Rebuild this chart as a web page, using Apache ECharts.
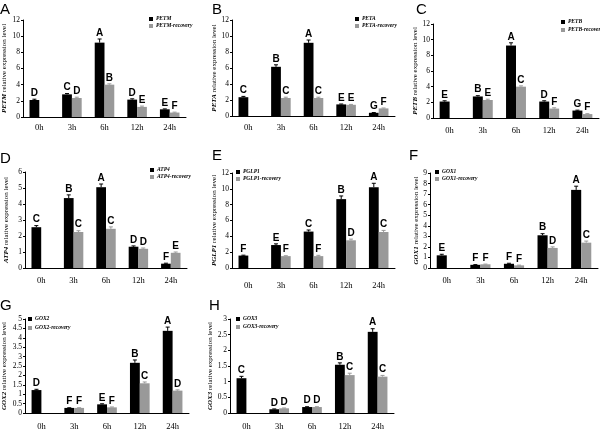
<!DOCTYPE html>
<html><head><meta charset="utf-8">
<script src="https://cdn.jsdelivr.net/npm/echarts@6/dist/echarts.min.js"></script>
<style>html,body{margin:0;padding:0;background:#fff}#c{width:600px;height:431px}</style>
</head><body><div id="c"></div>
<script>
const categories = ['0h','3h','6h','12h','24h'];
const panelTags = ['A','B','C','D','E','F','G','H'];
const genes = ['PETM','PETA','PETB','ATP4','PGLP1','GOX1','GOX2','GOX3'];
const yMax = [12,12,12,6,12,9,5,3];
const yInterval = [2,2,2,1,2,1,0.5,0.5];

const petmTreat = [2.1,2.8,9.2,2.15,0.95];
const petmRecov = ['-',2.35,4.0,1.25,0.55];
const petmTreatErr = [0.1,0.1,0.45,0.1,0.05];
const petmRecovErr = [0,0.1,0.1,0.1,0.05];
const petmTreatSig = ['D','C','A','D','E'];
const petmRecovSig = ['','D','B','E','F'];

const petaTreat = [2.35,6.15,9.15,1.45,0.4];
const petaRecov = ['-',2.25,2.25,1.4,0.95];
const petaTreatErr = [0.1,0.25,0.35,0.05,0.03];
const petaRecovErr = [0,0.1,0.1,0.05,0.05];
const petaTreatSig = ['C','B','A','E','G'];
const petaRecovSig = ['','C','C','E','F'];

const petbTreat = [2.1,2.75,9.25,2.1,0.95];
const petbRecov = ['-',2.3,4.0,1.2,0.5];
const petbTreatErr = [0.1,0.1,0.35,0.1,0.05];
const petbRecovErr = [0,0.1,0.1,0.1,0.05];
const petbTreatSig = ['E','B','A','D','G'];
const petbRecovSig = ['','E','C','F','F'];

const atp4Treat = [2.55,4.37,5.05,1.33,0.27];
const atp4Recov = ['-',2.25,2.45,1.2,0.95];
const atp4TreatErr = [0.1,0.2,0.2,0.05,0.03];
const atp4RecovErr = [0,0.08,0.12,0.05,0.05];
const atp4TreatSig = ['C','B','A','D','F'];
const atp4RecovSig = ['','C','C','D','E'];

const pglp1Treat = [1.57,2.9,4.6,8.7,10.2];
const pglp1Recov = ['-',1.5,1.5,3.5,4.55];
const pglp1TreatErr = [0.05,0.15,0.2,0.4,0.5];
const pglp1RecovErr = [0,0.05,0.1,0.15,0.2];
const pglp1TreatSig = ['F','E','C','B','A'];
const pglp1RecovSig = ['','F','F','D','C'];

const gox1Treat = [1.2,0.3,0.4,3.1,7.4];
const gox1Recov = ['-',0.35,0.25,1.9,2.4];
const gox1TreatErr = [0.1,0.02,0.05,0.15,0.35];
const gox1RecovErr = [0,0.02,0.02,0.1,0.15];
const gox1TreatSig = ['E','F','F','B','A'];
const gox1RecovSig = ['','F','F','D','C'];

const gox2Treat = [1.22,0.27,0.46,2.67,4.37];
const gox2Recov = ['-',0.27,0.3,1.58,1.19];
const gox2TreatErr = [0.04,0.01,0.03,0.15,0.2];
const gox2RecovErr = [0,0.01,0.02,0.07,0.04];
const gox2TreatSig = ['D','F','E','B','A'];
const gox2RecovSig = ['','F','F','C','D'];

const gox3Treat = [1.11,0.12,0.19,1.54,2.59];
const gox3Recov = ['-',0.15,0.19,1.21,1.16];
const gox3TreatErr = [0.06,0.01,0.01,0.06,0.1];
const gox3RecovErr = [0,0.01,0.01,0.06,0.04];
const gox3TreatSig = ['C','D','D','B','A'];
const gox3RecovSig = ['','D','D','C','C'];

const treatSets = [petmTreat,petaTreat,petbTreat,atp4Treat,pglp1Treat,gox1Treat,gox2Treat,gox3Treat];
const recovSets = [petmRecov,petaRecov,petbRecov,atp4Recov,pglp1Recov,gox1Recov,gox2Recov,gox3Recov];
const treatErrSets = [petmTreatErr,petaTreatErr,petbTreatErr,atp4TreatErr,pglp1TreatErr,gox1TreatErr,gox2TreatErr,gox3TreatErr];
const recovErrSets = [petmRecovErr,petaRecovErr,petbRecovErr,atp4RecovErr,pglp1RecovErr,gox1RecovErr,gox2RecovErr,gox3RecovErr];
const treatSigSets = [petmTreatSig,petaTreatSig,petbTreatSig,atp4TreatSig,pglp1TreatSig,gox1TreatSig,gox2TreatSig,gox3TreatSig];
const recovSigSets = [petmRecovSig,petaRecovSig,petbRecovSig,atp4RecovSig,pglp1RecovSig,gox1RecovSig,gox2RecovSig,gox3RecovSig];

// layout (pixel positions)
const layout = [
  {left:23, top:20, bottom:117, width:163, gap:15, xm:6, leg:[149,16], legGap:1, tag:[0,2]},
  {left:232, top:20, bottom:116, width:163, gap:13, xm:7, leg:[355,16], legGap:1, tag:[212,2]},
  {left:433, top:24, bottom:118, width:166, gap:13, xm:8, leg:[561,19], legGap:2, tag:[416,2]},
  {left:25, top:172, bottom:268, width:162, gap:15, xm:8, leg:[150,167], legGap:1, tag:[0,151]},
  {left:232, top:173, bottom:268, width:163, gap:13, xm:13, leg:[236,169], legGap:1, tag:[212,148]},
  {left:430, top:173, bottom:268, width:168, gap:9, xm:8, leg:[435,169], legGap:1, tag:[409,148]},
  {left:24, top:319, bottom:417, width:165, gap:17, xm:9, leg:[28,316], legGap:3, tag:[0,298]},
  {left:230, top:319, bottom:417, width:164, gap:13, xm:9, leg:[236,316], legGap:2, tag:[209,298]}
];

const SERIF = '"Liberation Serif","Times New Roman",serif';
const BLACK = '#000000', GRAY = '#999999';

function errSeries(gi, vals, errs, sigs, side, color){
  return {
    type:'custom', xAxisIndex:gi, yAxisIndex:gi, z:5, silent:true,
    data: vals.map((v,i)=>[i, v==='-'?0:v, errs[i]]),
    encode:{x:0,y:1},
    renderItem(params, api){
      const i = api.value(0), v = api.value(1), e = api.value(2);
      const band = api.size([1,0])[0];
      const c = api.coord([i, v]);
      const x = c[0] + side*band*0.15;
      const top = api.coord([i, v+e])[1];
      const ch = [];
      if (e > 0) {
        ch.push({type:'line', shape:{x1:x,y1:c[1],x2:x,y2:top}, style:{stroke:color,lineWidth:1}});
        ch.push({type:'line', shape:{x1:x-2,y1:top,x2:x+2,y2:top}, style:{stroke:color,lineWidth:1}});
      }
      if (sigs[i]) ch.push({type:'text', x:x, y:top-1, style:{text:sigs[i], fill:'#000', font:'bold 10px "Liberation Sans", Arial, sans-serif', align:'center', verticalAlign:'bottom'}});
      return {type:'group', children:ch};
    }
  };
}

const grid=[], xAxis=[], yAxis=[], series=[], legend=[], graphic=[];
genes.forEach((g,gi)=>{
  const L = layout[gi];
  grid.push({left:L.left, top:L.top, width:L.width, height:L.bottom-L.top, containLabel:false});
  xAxis.push({type:'category', gridIndex:gi, data:categories,
    axisLine:{lineStyle:{color:'#000',width:1}},
    axisTick:{inside:true,length:3,lineStyle:{color:'#000'}},
    axisLabel:{color:'#000', fontFamily:SERIF, fontSize:8.5, margin:L.xm}});
  yAxis.push({type:'value', gridIndex:gi, min:0, max:yMax[gi], interval:yInterval[gi],
    splitLine:{show:false},
    axisLine:{show:true,lineStyle:{color:'#000',width:1}},
    axisTick:{show:true,length:2,lineStyle:{color:'#000'}},
    axisLabel:{color:'#000', fontFamily:SERIF, fontSize:7.5, margin:3},
    name:'{i|'+g+'} relative expression level', nameLocation:'middle', nameGap:L.gap, nameRotate:90,
    nameTextStyle:{fontFamily:SERIF, fontSize:7, color:'#000',
      rich:{i:{fontStyle:'italic', fontWeight:'bold', fontFamily:SERIF, fontSize:7, color:'#000'}}}});
  series.push({type:'bar', name:g, xAxisIndex:gi, yAxisIndex:gi, data:treatSets[gi], barWidth:'30%', barGap:'0%', itemStyle:{color:BLACK}});
  series.push({type:'bar', name:g+'-recovery', xAxisIndex:gi, yAxisIndex:gi, data:recovSets[gi], barWidth:'30%', barGap:'0%', itemStyle:{color:GRAY}});
  series.push(errSeries(gi, treatSets[gi], treatErrSets[gi], treatSigSets[gi], -1, BLACK));
  series.push(errSeries(gi, recovSets[gi], recovErrSets[gi], recovSigSets[gi], 1, GRAY));
  legend.push({data:[g, g+'-recovery'], orient:'vertical', left:L.leg[0], top:L.leg[1], itemWidth:4, itemHeight:4, itemGap:L.legGap, icon:'rect', padding:0,
    textStyle:{fontFamily:SERIF, fontStyle:'italic', fontWeight:'bold', fontSize:5.5, color:'#000', padding:[0,0,0,-2]}});
  graphic.push({type:'text', left:L.tag[0], top:L.tag[1], style:{text:panelTags[gi], font:'15px "Liberation Sans", Arial, sans-serif', fill:'#000'}});
});

const chart = echarts.init(document.getElementById('c'), null, {renderer:'canvas'});
chart.setOption({animation:false, backgroundColor:'#fff', grid, xAxis, yAxis, series, legend, graphic});
</script>
</body></html>
